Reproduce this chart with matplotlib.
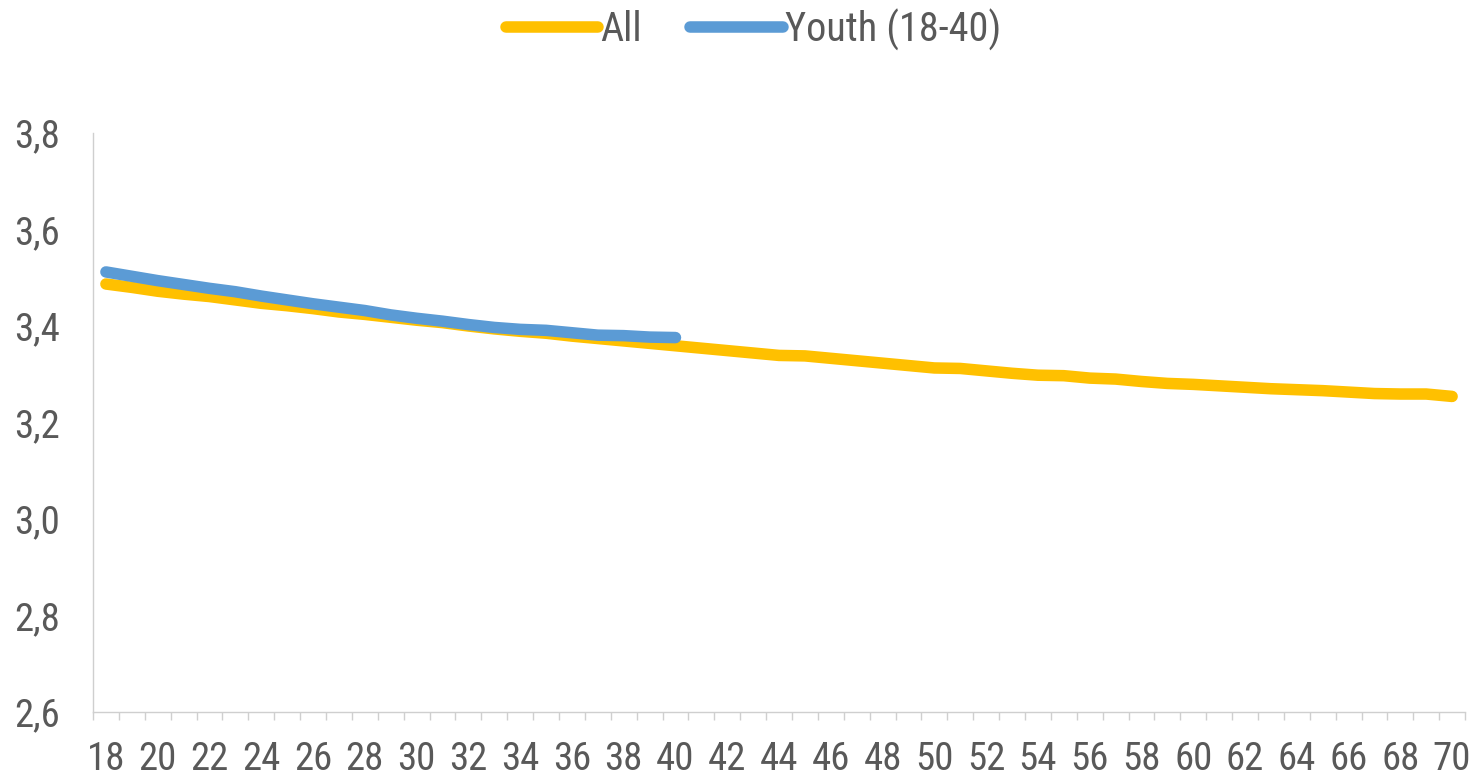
import matplotlib
matplotlib.use("Agg")
import matplotlib.pyplot as plt
from matplotlib import font_manager
from matplotlib.ticker import FixedLocator, FuncFormatter

# Average score by age
ages = list(range(18, 71))
all_values = [
    3.487, 3.480, 3.472, 3.466, 3.461, 3.454, 3.447, 3.442, 3.436, 3.429,
    3.424, 3.418, 3.412, 3.407, 3.400, 3.394, 3.389, 3.385, 3.379, 3.374,
    3.369, 3.364, 3.359, 3.354, 3.349, 3.344, 3.339, 3.338, 3.333, 3.328,
    3.323, 3.318, 3.313, 3.312, 3.307, 3.302, 3.298, 3.297, 3.292, 3.290,
    3.285, 3.281, 3.279, 3.276, 3.273, 3.270, 3.268, 3.266, 3.263, 3.260,
    3.259, 3.259, 3.254,
]
youth_ages = list(range(18, 41))
youth_values = [
    3.512, 3.503, 3.494, 3.486, 3.478, 3.471, 3.462, 3.454, 3.446, 3.439,
    3.432, 3.423, 3.416, 3.410, 3.403, 3.397, 3.393, 3.391, 3.386, 3.381,
    3.380, 3.377, 3.376,
]
series_names = ["All", "Youth (18-40)"]
y_ticks = [2.6, 2.8, 3.0, 3.2, 3.4, 3.6, 3.8]
x_label_ticks = list(range(18, 71, 2))


def pick_font():
    """Prefer a narrow sans face; fall back to Lato at a smaller size."""
    fonts = font_manager.fontManager.ttflist
    names = {f.name for f in fonts}
    for n in ["Liberation Sans Narrow", "Roboto Condensed", "Open Sans Condensed",
              "Noto Sans Condensed", "DejaVu Sans Condensed", "Lato Condensed"]:
        if n in names:
            return n, "normal", 28
    for f in fonts:
        if ("Narrow" in f.name or "Condensed" in f.name) and "Mono" not in f.name \
                and "Serif" not in f.name:
            return f.name, "normal", 28
    for f in fonts:
        if f.stretch in ("condensed", "semi-condensed") and "Mono" not in f.name \
                and "Serif" not in f.name and f.style == "normal":
            return f.name, f.stretch, 28
    return ("Lato" if "Lato" in names else "DejaVu Sans"), "normal", 23


family, stretch, fsize = pick_font()
plt.rcParams["font.family"] = [family, "DejaVu Sans"]
plt.rcParams["font.stretch"] = stretch

TEXT = "#595959"
ORANGE = "#FFC000"
BLUE = "#5B9BD5"
AXIS = "#cfcfcf"

fig = plt.figure(figsize=(14.83, 7.84), dpi=100)
ax = fig.add_axes([0.0627, 0.0918, 0.9252, 0.7386])

l1, = ax.plot(ages, all_values, color=ORANGE, lw=8.3, solid_capstyle="round",
              solid_joinstyle="round", label=series_names[0], zorder=3)
l2, = ax.plot(youth_ages, youth_values, color=BLUE, lw=8.3, solid_capstyle="round",
              solid_joinstyle="round", label=series_names[1], zorder=4)

ax.set_xlim(17.5, 70.5)
ax.set_ylim(2.6, 3.8)

for s in ["top", "right"]:
    ax.spines[s].set_visible(False)
for s in ["left", "bottom"]:
    ax.spines[s].set_color(AXIS)
    ax.spines[s].set_linewidth(1.0)

ax.xaxis.set_major_locator(FixedLocator(x_label_ticks))
ax.xaxis.set_minor_locator(FixedLocator([a - 0.5 for a in ages] + [70.5]))
ax.tick_params(axis="x", which="major", length=0, pad=21, labelsize=fsize, labelcolor=TEXT)
ax.tick_params(axis="x", which="minor", length=6, width=1.0, color=AXIS)

ax.yaxis.set_major_locator(FixedLocator(y_ticks))
ax.yaxis.set_major_formatter(FuncFormatter(lambda v, p: f"{v:.1f}".replace(".", ",")))
ax.tick_params(axis="y", which="major", length=0, pad=24, labelsize=fsize, labelcolor=TEXT)

leg = fig.legend(handles=[l1, l2], loc="center", bbox_to_anchor=(0.508, 0.962),
                 ncol=2, frameon=False, fontsize=fsize + 1, handlelength=2.3,
                 handletextpad=0.05, columnspacing=1.2, labelcolor=TEXT)

fig.savefig("out.png", dpi=100, facecolor="white")
